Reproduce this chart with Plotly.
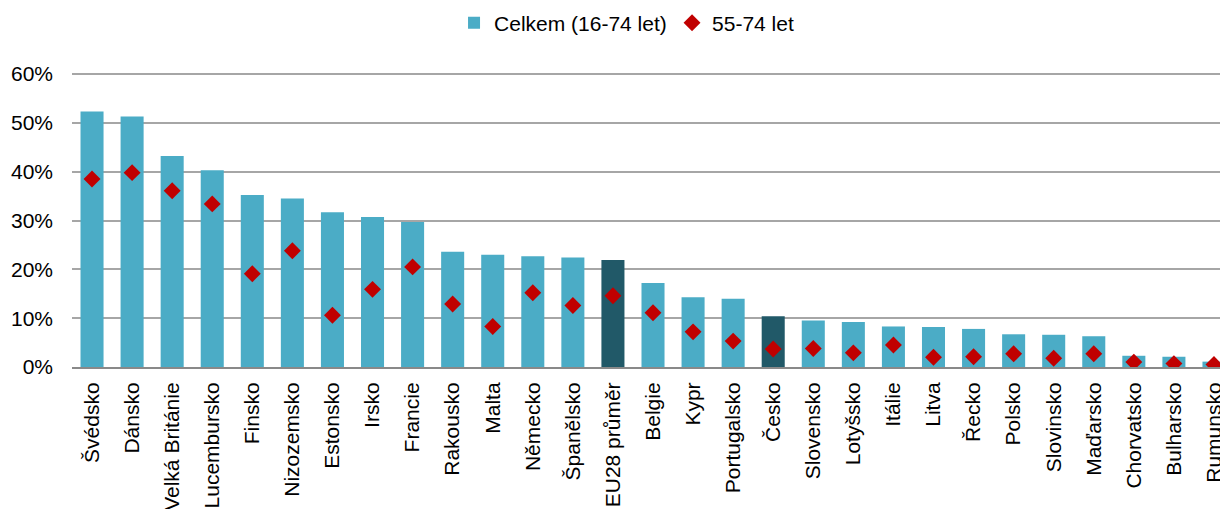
import plotly.graph_objects as go

categories = ["Švédsko", "Dánsko", "Velká Británie", "Lucembursko", "Finsko", "Nizozemsko",
              "Estonsko", "Irsko", "Francie", "Rakousko", "Malta", "Německo", "Španělsko",
              "EU28 průměr", "Belgie", "Kypr", "Portugalsko", "Česko", "Slovensko", "Lotyšsko",
              "Itálie", "Litva", "Řecko", "Polsko", "Slovinsko", "Maďarsko", "Chorvatsko",
              "Bulharsko", "Rumunsko"]

celkem = [52.3, 51.3, 43.2, 40.3, 35.2, 34.5, 31.7, 30.7, 29.7, 23.6, 23.0, 22.7, 22.4,
          21.9, 17.2, 14.3, 14.0, 10.4, 9.5, 9.2, 8.3, 8.2, 7.8, 6.7, 6.6, 6.3, 2.3, 2.1, 1.1]
starsi = [38.5, 39.8, 36.1, 33.4, 19.1, 23.8, 10.6, 15.9, 20.5, 12.9, 8.3, 15.2, 12.6,
          14.6, 11.1, 7.2, 5.3, 3.7, 3.8, 2.9, 4.5, 2.0, 2.1, 2.7, 1.8, 2.7, 1.0, 0.7, 0.5]

y_ticks = [0, 10, 20, 30, 40, 50, 60]
y_labels = ["0%", "10%", "20%", "30%", "40%", "50%", "60%"]

highlight = {"EU28 průměr", "Česko"}
bar_colors = ["#215968" if c in highlight else "#4BACC6" for c in categories]

fig = go.Figure()
fig.add_trace(go.Bar(
    x=categories, y=celkem, name="Celkem (16-74 let)",
    marker=dict(color=bar_colors, line=dict(width=0)),
))
fig.add_trace(go.Scatter(
    x=categories, y=starsi, name="55-74 let", mode="markers",
    marker=dict(symbol="diamond", size=13, color="#C00000"),
))

n = len(categories)
fig.update_layout(
    width=1220, height=501,
    margin=dict(l=64, r=0, t=64, b=142),
    paper_bgcolor="white", plot_bgcolor="white",
    font=dict(family="Liberation Sans, Arial, sans-serif", size=21, color="#000000"),
    bargap=0.425,
    showlegend=True,
    legend=dict(orientation="h", xref="container", yref="container",
                x=0.3656, xanchor="left", y=0.970, yanchor="middle",
                font=dict(size=21), traceorder="normal", itemwidth=30, entrywidth=173),
    xaxis=dict(range=[-0.5, n - 0.65], tickangle=-90, showgrid=False,
               showline=True, linecolor="#898989", linewidth=2, ticks="",
               ticklabelstandoff=5, tickfont=dict(size=21), automargin=False),
    yaxis=dict(range=[0, 60.41], tickvals=y_ticks, ticktext=y_labels,
               showgrid=True, gridcolor="#A6A6A6", gridwidth=1.5, zeroline=False,
               showline=False, ticklabelstandoff=18, tickfont=dict(size=21),
               automargin=False),
)
fig.write_html("out.html")
